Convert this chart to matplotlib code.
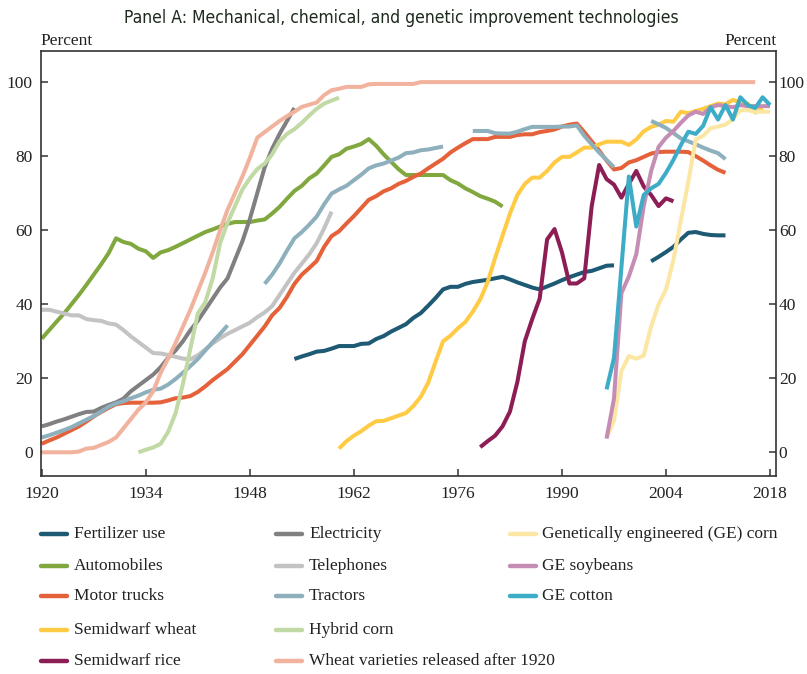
import numpy as np
import matplotlib
matplotlib.use("Agg")
import matplotlib.pyplot as plt
from matplotlib import font_manager
from matplotlib.lines import Line2D

nan = np.nan

# ---------------- data (percent adoption) ----------------
fert_years = [1954, 1955, 1956, 1957, 1958, 1959, 1960, 1961, 1962, 1963, 1964, 1965, 1966, 1967,
              1968, 1969, 1970, 1971, 1972, 1973, 1974, 1975, 1976, 1977, 1978, 1979, 1980, 1981,
              1982, 1983, 1984, 1985, 1986, 1987, 1988, 1989, 1990, 1991, 1992, 1993, 1994, 1995,
              1996, 1997, 1999, 2002, 2003, 2004, 2005, 2006, 2007, 2008, 2009, 2010, 2011, 2012]
fert_vals = [25.2, 25.9, 26.5, 27.2, 27.4, 28.0, 28.7, 28.7, 28.7, 29.3, 29.4, 30.6, 31.4, 32.6,
             33.6, 34.6, 36.3, 37.6, 39.6, 41.7, 44.0, 44.7, 44.7, 45.5, 46.0, 46.3, 46.6, 47.0,
             47.4, 46.7, 45.9, 45.2, 44.5, 44.0, 44.8, 45.6, 46.5, 47.3, 48.0, 48.7, 49.0, 49.7,
             50.4, 50.5, nan, 51.6, 52.8, 54.1, 55.5, 57.5, 59.3, 59.5, 59.0, 58.7, 58.6, 58.6]

auto_years = list(range(1920, 1983))
auto_vals = [30.7, 33.0, 35.3, 37.5, 40.0, 42.5, 45.2, 48.0, 50.8, 53.8, 57.8, 56.8, 56.3, 55.0,
             54.3, 52.5, 54.0, 54.6, 55.5, 56.5, 57.5, 58.5, 59.5, 60.2, 61.0, 61.7, 62.2, 62.2,
             62.2, 62.6, 62.9, 64.5, 66.3, 68.5, 70.6, 72.0, 74.0, 75.3, 77.5, 79.8, 80.5, 82.0,
             82.6, 83.3, 84.6, 82.8, 80.5, 78.5, 76.5, 74.9, 74.9, 74.9, 74.9, 74.9, 74.9, 73.5,
             72.6, 71.3, 70.3, 69.2, 68.5, 67.7, 66.4]

truck_years = list(range(1920, 2013))
truck_vals = [2.3, 3.2, 4.0, 5.0, 6.0, 7.0, 8.3, 9.7, 10.9, 12.0, 13.0, 13.3, 13.4, 13.4, 13.4,
              13.4, 13.5, 14.0, 14.6, 14.8, 15.2, 16.3, 17.8, 19.5, 21.0, 22.5, 24.5, 26.5, 29.0,
              31.5, 34.0, 37.0, 39.0, 42.0, 45.5, 48.0, 49.8, 51.7, 55.5, 58.4, 59.7, 61.8, 63.8,
              66.0, 68.2, 69.2, 70.5, 71.3, 72.5, 73.3, 74.4, 75.3, 76.7, 78.0, 79.3, 81.0, 82.3,
              83.5, 84.6, 84.6, 84.6, 85.2, 85.2, 85.2, 85.7, 85.9, 85.9, 86.5, 86.8, 87.2, 88.0,
              88.5, 88.8, 86.5, 84.0, 81.5, 78.8, 76.4, 76.8, 78.3, 78.9, 79.8, 80.7, 81.1, 81.2,
              81.2, 81.2, 81.1, 80.0, 78.8, 77.5, 76.3, 75.5]

sdwheat_years = list(range(1960, 2018))
sdwheat_vals = [1.0, 3.0, 4.5, 5.7, 7.2, 8.4, 8.5, 9.2, 9.9, 10.6, 12.5, 15.0, 18.8, 24.5, 30.0,
                31.5, 33.5, 35.2, 38.0, 41.3, 46.0, 52.5, 58.5, 64.5, 69.5, 72.5, 74.2, 74.2, 76.0,
                78.3, 79.8, 79.8, 81.0, 82.3, 82.3, 83.2, 83.9, 83.9, 83.9, 83.0, 84.5, 86.7, 87.9,
                88.5, 89.5, 89.3, 92.0, 91.6, 92.2, 92.8, 93.5, 94.2, 94.0, 95.2, 94.5, 94.2, 91.8,
                93.0]

sdrice_years = list(range(1979, 2006))
sdrice_vals = [1.4, 3.0, 4.5, 7.0, 11.0, 19.0, 30.0, 36.0, 41.5, 57.5, 60.3, 54.0, 45.6, 45.6,
               47.0, 66.5, 77.6, 73.8, 72.3, 68.8, 72.5, 76.0, 71.8, 69.5, 66.5, 68.6, 67.8]

elec_years = list(range(1920, 1955))
elec_vals = [7.0, 7.6, 8.3, 8.9, 9.6, 10.3, 10.9, 11.0, 12.0, 12.8, 13.5, 14.5, 16.5, 18.0, 19.5,
             21.0, 23.0, 25.5, 27.5, 30.0, 33.0, 35.5, 38.5, 41.5, 44.5, 47.0, 52.0, 57.0, 63.0,
             70.0, 77.0, 82.0, 86.0, 89.5, 93.0]

phone_years = list(range(1920, 1960))
phone_vals = [38.5, 38.5, 38.0, 37.5, 37.0, 37.0, 36.0, 35.7, 35.5, 34.8, 34.5, 33.0, 31.3, 29.8,
              28.3, 26.8, 26.7, 26.3, 25.8, 25.3, 25.1, 26.2, 27.8, 29.4, 30.8, 32.0, 33.0, 34.0,
              35.0, 36.5, 37.8, 39.5, 42.5, 45.5, 48.5, 51.0, 53.5, 56.5, 60.5, 65.0]

tractor_years = (list(range(1920, 1946)) + [1947] + list(range(1950, 1975)) + [1976]
                 + list(range(1978, 1998)) + [1999] + list(range(2002, 2013)))
tractor_vals = ([4.0, 4.6, 5.3, 6.0, 6.8, 7.8, 8.8, 9.8, 11.0, 12.3, 13.2, 13.8, 14.6, 15.3, 16.2,
                 16.9, 17.2, 18.3, 19.8, 21.5, 23.3, 25.2, 27.5, 29.8, 32.0, 34.3, nan,
                 45.5, 48.0, 51.0, 54.5, 57.8, 59.5, 61.5, 63.7, 67.0, 69.9, 71.0, 72.0, 73.5,
                 75.0, 76.7, 77.5, 78.0, 78.8, 79.6, 80.8, 81.0, 81.6, 81.8, 82.2, 82.6, nan,
                 86.8, 86.8, 86.8, 86.2, 86.1, 86.1, 86.6, 87.3, 87.9, 87.9, 87.9, 87.9, 88.0,
                 88.0, 88.3, 85.5, 83.2, 81.0, 79.0, 77.0, nan,
                 89.5, 88.6, 87.6, 86.2, 84.8, 84.0, 83.2, 82.3, 81.5, 80.8, 79.2])

hcorn_years = list(range(1933, 1961))
hcorn_vals = [0.0, 0.7, 1.3, 2.3, 5.5, 10.5, 18.5, 28.0, 37.5, 40.5, 47.0, 56.5, 62.0, 66.5, 71.0,
              74.0, 76.5, 78.0, 80.5, 84.0, 86.0, 87.3, 89.0, 91.0, 92.8, 94.2, 95.0, 95.8]

wvar_years = list(range(1920, 1972)) + [2016]
wvar_vals = [0.0, 0.0, 0.0, 0.0, 0.0, 0.2, 1.0, 1.2, 2.0, 2.8, 4.0, 6.5, 9.0, 11.5, 13.5, 16.5,
             21.5, 25.3, 29.5, 34.0, 38.5, 43.5, 48.5, 54.0, 60.0, 65.5, 70.0, 74.5, 79.5, 85.0,
             86.5, 88.0, 89.5, 90.8, 92.0, 93.3, 93.9, 94.5, 96.5, 97.8, 98.2, 98.7, 98.7, 98.7,
             99.4, 99.5, 99.5, 99.5, 99.5, 99.5, 99.5, 100.0, 100.0]

gecorn_years = list(range(1996, 2019))
gecorn_vals = [4.0, 8.5, 22.0, 26.0, 25.3, 26.1, 34.0, 40.0, 44.0, 52.0, 62.7, 73.0, 84.5, 85.5,
               87.5, 88.0, 88.5, 90.0, 92.4, 92.4, 92.0, 92.0, 92.0]

gesoy_years = list(range(1996, 2019))
gesoy_vals = [3.7, 14.5, 43.0, 47.5, 53.5, 66.5, 76.0, 82.5, 85.0, 86.8, 89.0, 91.0, 92.0, 91.4,
              93.2, 93.8, 93.5, 93.2, 93.8, 93.5, 93.5, 93.5, 93.5]

gecot_years = [1996, 1997] + list(range(1999, 2019))
gecot_vals = [17.0, 25.5, 74.5, 61.0, 69.5, 71.3, 72.5, 75.5, 79.0, 83.0, 86.6, 86.0, 88.2, 93.2,
              89.9, 93.8, 89.9, 95.9, 93.8, 93.0, 95.9, 93.8]

x_ticks = [1920, 1934, 1948, 1962, 1976, 1990, 2004, 2018]
y_ticks = [0, 20, 40, 60, 80, 100]

title_text = "Panel A: Mechanical, chemical, and genetic improvement technologies"

# label, years, values, color  (drawing order)
series = [
    ("Fertilizer use", fert_years, fert_vals, "#1E5A74"),
    ("Automobiles", auto_years, auto_vals, "#80A83E"),
    ("Motor trucks", truck_years, truck_vals, "#E5613A"),
    ("Semidwarf wheat", sdwheat_years, sdwheat_vals, "#FFCB45"),
    ("Semidwarf rice", sdrice_years, sdrice_vals, "#8C1D55"),
    ("Electricity", elec_years, elec_vals, "#808080"),
    ("Telephones", phone_years, phone_vals, "#C3C3C3"),
    ("Tractors", tractor_years, tractor_vals, "#8EB0BD"),
    ("Hybrid corn", hcorn_years, hcorn_vals, "#C1D9A4"),
    ("Wheat varieties released after 1920", wvar_years, wvar_vals, "#F1B39D"),
    ("Genetically engineered (GE) corn", gecorn_years, gecorn_vals, "#FCE6A4"),
    ("GE soybeans", gesoy_years, gesoy_vals, "#C68DB4"),
    ("GE cotton", gecot_years, gecot_vals, "#3DACC7"),
]

# legend grid: (column, row) for each label
legend_pos = {
    "Fertilizer use": (0, 0), "Electricity": (1, 0), "Genetically engineered (GE) corn": (2, 0),
    "Automobiles": (0, 1), "Telephones": (1, 1), "GE soybeans": (2, 1),
    "Motor trucks": (0, 2), "Tractors": (1, 2), "GE cotton": (2, 2),
    "Semidwarf wheat": (0, 3), "Hybrid corn": (1, 3),
    "Semidwarf rice": (0, 4), "Wheat varieties released after 1920": (1, 4),
}

# ---------------- fonts ----------------
avail = {f.name for f in font_manager.fontManager.ttflist}
serif = "Liberation Serif" if "Liberation Serif" in avail else "DejaVu Serif"
if "Liberation Sans Narrow" in avail:
    title_family, title_stretch = "Liberation Sans Narrow", "normal"
else:
    title_family, title_stretch = "DejaVu Sans", "condensed"

plt.rcParams["font.family"] = [serif, "DejaVu Serif"]

W, H = 807, 674
fig = plt.figure(figsize=(W / 100, H / 100), dpi=100)

def fx(px):
    return px / W

def fy(py):
    return 1 - py / H

left, right, top, bottom = 41, 776, 51, 476
ax = fig.add_axes([fx(left), fy(bottom), fx(right) - fx(left), fy(top) - fy(bottom)])

for label, yrs, vals, col in series:
    ax.plot(yrs, vals, color=col, lw=2.9, solid_capstyle="butt", solid_joinstyle="round",
            label=label)

ax.set_xlim(1919.9, 2018.8)
ax.set_ylim(-6.4, 108.4)
ax.set_xticks(x_ticks)
ax.set_yticks(y_ticks)
ax.set_xticklabels([str(v) for v in x_ticks])
ax.set_yticklabels([str(v) for v in y_ticks])

spine_col = "#333333"
for sp in ax.spines.values():
    sp.set_color(spine_col)
    sp.set_linewidth(1.2)

ax.tick_params(axis="both", direction="in", length=5, width=1.1, color=spine_col,
               labelsize=12.5, labelcolor="#222222")
ax.tick_params(axis="x", pad=7)
ax.tick_params(axis="y", pad=6, left=True, right=False)

ax2 = ax.twinx()
ax2.set_ylim(ax.get_ylim())
ax2.set_yticks(y_ticks)
ax2.set_yticklabels([str(v) for v in y_ticks])
ax2.tick_params(axis="y", direction="in", length=5, width=1.1, color=spine_col,
                labelsize=12.5, labelcolor="#222222", pad=2)
for sp in ax2.spines.values():
    sp.set_visible(False)

# axis unit labels
fig.text(fx(40), fy(41), "Percent", ha="left", va="center", fontsize=12.5, color="#222222")
fig.text(fx(777), fy(41), "Percent", ha="right", va="center", fontsize=12.5, color="#222222")

# title, fitted to the reference width
t = fig.text(fx(401), fy(18), title_text, ha="center", va="center", fontsize=16,
             family=[title_family, "DejaVu Sans"], fontstretch=title_stretch,
             fontweight="normal", color="#1E2A1E")
fig.canvas.draw()
w = t.get_window_extent().width
t.set_fontsize(16 * 556 / w)

# legend (drawn manually to mimic the reference arrangement)
col_handle_x = [41, 276, 510]
col_text_x = [74, 309, 542]
row_y = [534, 566, 596, 630, 661]
for label, yrs, vals, col in series:
    c, r = legend_pos[label]
    y = fy(row_y[r])
    fig.add_artist(Line2D([fx(col_handle_x[c]), fx(col_handle_x[c] + 26)], [y, y],
                          transform=fig.transFigure, color=col, lw=3.2,
                          solid_capstyle="round"))
    fig.text(fx(col_text_x[c]), y, label, ha="left", va="center", fontsize=12.5,
             color="#222222")

fig.savefig("out.png", dpi=100)
